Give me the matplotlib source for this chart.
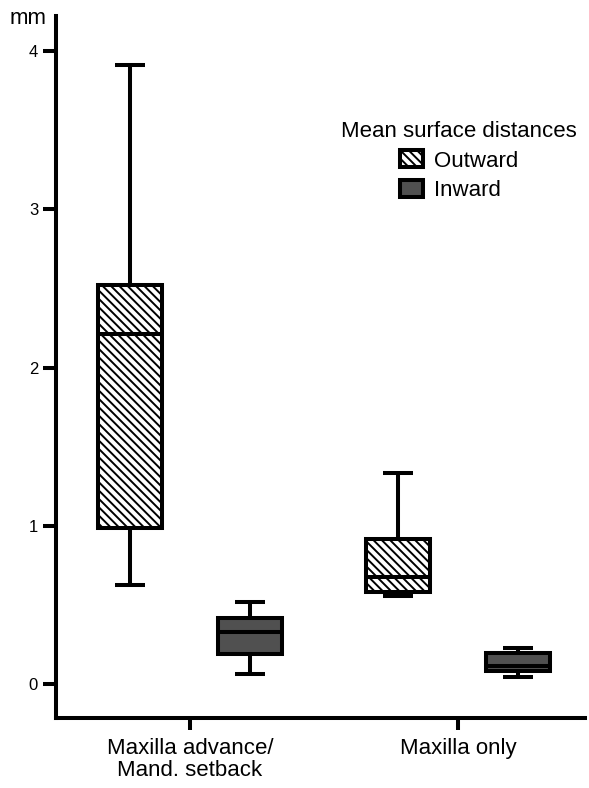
import matplotlib
matplotlib.use('Agg')
import matplotlib.pyplot as plt
from matplotlib.patches import Patch

plt.rcParams['font.family'] = ['Liberation Sans', 'DejaVu Sans']
plt.rcParams['hatch.linewidth'] = 1.4
plt.rcParams['hatch.color'] = 'black'

# ---- data ----
groups = ['Maxilla advance/\nMand. setback', 'Maxilla only']
series = ['Outward', 'Inward']
out_whislo = [0.63, 0.56]
out_q1 = [0.99, 0.585]
out_med = [2.21, 0.68]
out_q3 = [2.52, 0.92]
out_whishi = [3.91, 1.335]
in_whislo = [0.065, 0.046]
in_q1 = [0.19, 0.085]
in_med = [0.33, 0.115]
in_q3 = [0.42, 0.20]
in_whishi = [0.52, 0.23]
yticks = [0, 1, 2, 3, 4]
legend_title = 'Mean surface distances'
unit_label = 'mm'

LW = 2.9
INWARD_COLOR = '#505050'
OFFSET = 0.224
BOXW = 0.24
CAPW = 0.115
HATCH = '\\\\\\\\'

fig = plt.figure(figsize=(5.89, 7.88), dpi=100)
ax = fig.add_axes([56 / 589, 70.3 / 788, (585 - 56) / 589, (717.7 - 16) / 788])


def stats(lo, q1, med, q3, hi):
    return [dict(whislo=a, q1=b, med=c, q3=d, whishi=e, fliers=[])
            for a, b, c, d, e in zip(lo, q1, med, q3, hi)]


out_stats = stats(out_whislo, out_q1, out_med, out_q3, out_whishi)
in_stats = stats(in_whislo, in_q1, in_med, in_q3, in_whishi)

common = dict(widths=BOXW, capwidths=CAPW, patch_artist=True, showfliers=False,
              whiskerprops=dict(color='black', lw=LW, solid_capstyle='butt'),
              capprops=dict(color='black', lw=LW, solid_capstyle='butt'),
              medianprops=dict(color='black', lw=LW, solid_capstyle='butt'),
              manage_ticks=False)

pos_out = [i - OFFSET for i in range(len(groups))]
pos_in = [i + OFFSET for i in range(len(groups))]

b1 = ax.bxp(out_stats, positions=pos_out,
            boxprops=dict(facecolor='white', edgecolor='black', lw=LW), **common)
for p in b1['boxes']:
    p.set_hatch(HATCH)
b2 = ax.bxp(in_stats, positions=pos_in,
            boxprops=dict(facecolor=INWARD_COLOR, edgecolor='black', lw=LW), **common)

ax.set_xlim(-0.5, 1.474)
ax.set_ylim(-0.21, 4.22)
ax.set_yticks(yticks)
ax.set_yticklabels([str(t) for t in yticks])
ax.set_xticks(range(len(groups)))
ax.set_xticklabels(groups, fontsize=16, linespacing=1.1)

for s in ['top', 'right']:
    ax.spines[s].set_visible(False)
for s in ['left', 'bottom']:
    ax.spines[s].set_linewidth(LW)
ax.tick_params(axis='y', length=9.4, width=LW, labelsize=12, pad=3.5, direction='out')
ax.tick_params(axis='x', length=8.5, width=LW, pad=6, direction='out')

fig.text(10 / 589, (788 - 24) / 788, unit_label, fontsize=16, ha='left', va='baseline')

handles = [Patch(facecolor='white', edgecolor='black', hatch=HATCH, lw=LW),
           Patch(facecolor=INWARD_COLOR, edgecolor='black', lw=LW)]
leg = ax.legend(handles, series, title=legend_title, loc='upper center',
                bbox_to_anchor=(459 / 589, (788 - 121) / 788),
                bbox_transform=fig.transFigure, frameon=False, fontsize=16,
                title_fontsize=16, handlelength=1.05, handleheight=0.8,
                handletextpad=0.5, labelspacing=0.38, borderpad=0, borderaxespad=0)

fig.savefig('out.png', dpi=100)
